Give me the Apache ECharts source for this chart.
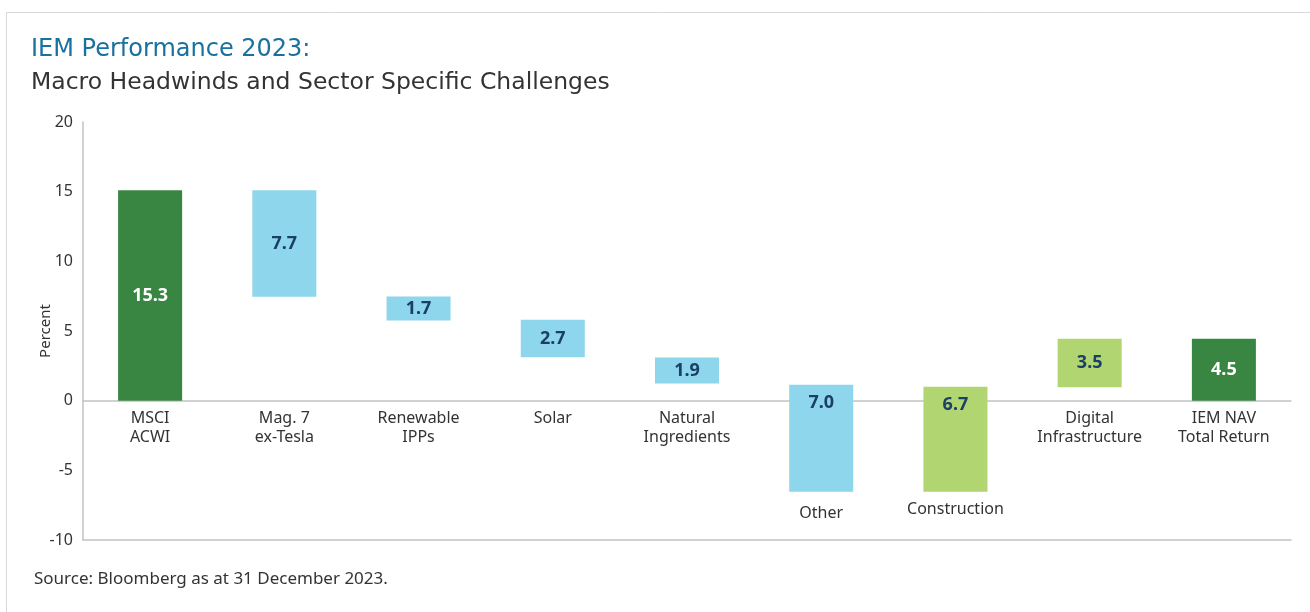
<!DOCTYPE html>
<html>
<head>
<meta charset="utf-8">
<script src="https://cdn.jsdelivr.net/npm/echarts@6/dist/echarts.min.js"></script>
<style>
  html, body { margin: 0; padding: 0; background: #fff; }
  #chart { width: 1310px; height: 612px; }
</style>
</head>
<body>
<div id="chart"></div>
<script>
// waterfall data
const categories = ['MSCI\nACWI', 'Mag. 7\nex-Tesla', 'Renewable\nIPPs', 'Solar', 'Natural\nIngredients',
  'Other', 'Construction', 'Digital\nInfrastructure', 'IEM NAV\nTotal Return']
const barLow = [0, 7.45, 5.76, 3.11, 1.24, -6.53, -6.53, 0.96, 0]
const barHigh = [15.1, 15.1, 7.47, 5.81, 3.09, 1.15, 1.0, 4.45, 4.45]
const barLabels = ['15.3', '7.7', '1.7', '2.7', '1.9', '7.0', '6.7', '3.5', '4.5']
const barKind = ['total', 'sector', 'sector', 'sector', 'sector', 'sector', 'green', 'green', 'total']
const yTicks = [-10, 20, 5]

const FONT = 'Noto Sans'
const TITLE_FONT = 'DejaVu Sans'
const fills = { total: '#388641', sector: '#8dd6eb', green: '#b1d571' }
const labelColors = { total: '#ffffff', sector: '#1b3f66', green: '#1b3f66' }
const AXIS_GREY = '#c2c2c2'

// push the two labels that sit under long negative bars further down
const lowLabelPad = { 'Other': 95, 'Construction': 91 }

const chart = echarts.init(document.getElementById('chart'))

const option = {
  animation: false,
  textStyle: { fontFamily: FONT },
  graphic: [
    { type: 'rect', shape: { x: 6.5, y: 12.5, width: 1320, height: 640 },
      style: { fill: 'none', stroke: '#d5d9db', lineWidth: 1 }, silent: true },
    { type: 'text', left: 31, top: 38,
      style: { text: 'IEM Performance 2023:', fill: '#19719e', font: '24px "' + TITLE_FONT + '"' } },
    { type: 'text', left: 31, top: 71,
      style: { text: 'Macro Headwinds and Sector Specific Challenges', fill: '#333333', font: '23.5px "' + TITLE_FONT + '"' } },
    { type: 'text', left: 34, top: 571,
      style: { text: 'Source: Bloomberg as at 31 December 2023.', fill: '#333333', font: '17px "' + FONT + '"' } }
  ],
  grid: { left: 83, top: 122, width: 1208, height: 418, outerBoundsMode: 'none' },
  xAxis: [
    {
      // the zero line
      type: 'category',
      data: categories,
      axisLine: { onZero: true, lineStyle: { color: AXIS_GREY, width: 1.5 } },
      axisTick: { show: false },
      axisLabel: { show: false }
    },
    {
      // bottom line, carries the category labels up under the zero line
      type: 'category',
      position: 'bottom',
      data: categories.map(c => lowLabelPad[c]
        ? { value: c, textStyle: { padding: [lowLabelPad[c], 0, 0, 0] } }
        : c),
      axisLine: { onZero: false, lineStyle: { color: AXIS_GREY, width: 1.5 } },
      axisTick: { show: false },
      axisLabel: { color: '#333', fontSize: 16, lineHeight: 19, margin: -131.5, interval: 0 }
    }
  ],
  yAxis: {
    type: 'value',
    min: yTicks[0],
    max: yTicks[1],
    interval: yTicks[2],
    name: 'Percent',
    nameLocation: 'middle',
    nameGap: 30,
    nameMoveOverlap: false,
    nameTextStyle: { color: '#333', fontSize: 15 },
    axisLine: { show: true, lineStyle: { color: AXIS_GREY, width: 1.5 } },
    axisTick: { show: false },
    splitLine: { show: false },
    axisLabel: { color: '#333', fontSize: 16, margin: 10 }
  },
  series: [{
    type: 'custom',
    data: categories.map((c, i) => [i, barLow[i], barHigh[i]]),
    renderItem: function (params, api) {
      const i = api.value(0)
      const lo = api.value(1)
      const hi = api.value(2)
      const top = api.coord([i, hi])
      const bot = api.coord([i, lo])
      const w = api.size([1, 0])[0] * 0.477
      const kind = barKind[i]
      // bars crossing zero carry their label near the top
      const ly = (lo < 0 && hi > 0) ? top[1] + 18 : (top[1] + bot[1]) / 2
      return {
        type: 'group',
        children: [
          { type: 'rect',
            shape: { x: top[0] - w / 2, y: top[1], width: w, height: bot[1] - top[1] },
            style: { fill: fills[kind] } },
          { type: 'text',
            x: top[0], y: ly,
            style: { text: barLabels[i], fill: labelColors[kind], align: 'center', verticalAlign: 'middle',
              font: 'bold 18px "' + FONT + '"' } }
        ]
      }
    }
  }]
}

chart.setOption(option)
</script>
</body>
</html>
